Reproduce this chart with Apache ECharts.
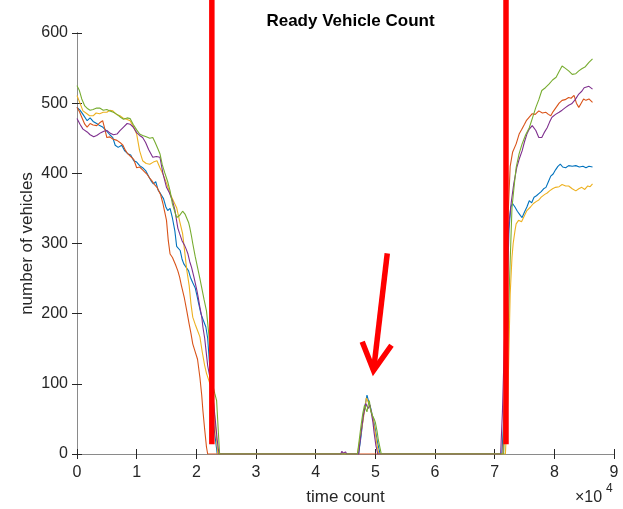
<!DOCTYPE html>
<html>
<head>
<meta charset="utf-8">
<script src="https://cdn.jsdelivr.net/npm/echarts@6/dist/echarts.min.js"></script>
<style>html,body{margin:0;padding:0;background:#fff}#c{width:623px;height:509px}</style>
</head>
<body>
<div id="c"></div>
<script>
// x values in units of 10^4 time counts
const xTicks = [0,1,2,3,4,5,6,7,8,9];
const yTicks = [0,100,200,300,400,500,600];
const titleText = 'Ready Vehicle Count';
const xName = 'time count';
const yName = 'number of vehicles';

const blueRun = [[0,494],[0.05,490],[0.1,484],[0.17,475],[0.22,479],[0.27,474],[0.33,471],[0.38,468],[0.43,466],[0.5,460],[0.55,455],[0.6,451],[0.64,440],[0.69,437],[0.75,440],[0.8,432],[0.85,428],[0.9,426],[0.95,418],[1.0,416],[1.05,411],[1.1,408],[1.15,404],[1.2,396],[1.25,388],[1.28,385],[1.32,388],[1.36,376],[1.4,371],[1.45,364],[1.49,352],[1.52,347],[1.56,350],[1.6,336],[1.64,318],[1.67,296],[1.7,294],[1.73,290],[1.76,278],[1.79,271],[1.83,266],[1.87,261],[1.9,252],[1.94,244],[1.98,237],[2.01,226],[2.04,214],[2.08,199],[2.12,190],[2.16,181],[2.19,165],[2.22,130],[2.26,80],[2.3,35],[2.35,0],[2.6,0],[2.62,2],[2.64,0],[3.3,0],[3.32,1],[3.34,0],[4.3,0],[4.32,2],[4.34,0],[4.72,0],[4.76,25],[4.8,55],[4.83,70],[4.86,84],[4.89,74],[4.92,66],[4.96,52],[5.0,35],[5.04,15],[5.08,0],[6.5,0],[6.52,1],[6.54,0],[7.12,0],[7.16,60],[7.2,200],[7.24,320],[7.27,352],[7.3,357],[7.34,352],[7.38,346],[7.43,340],[7.46,337],[7.5,345],[7.54,352],[7.58,361],[7.62,358],[7.66,366],[7.7,368],[7.74,371],[7.78,374],[7.82,378],[7.86,380],[7.9,388],[7.94,396],[7.98,399],[8.02,405],[8.06,410],[8.1,413],[8.14,409],[8.19,408],[8.24,411],[8.3,410],[8.36,411],[8.42,409],[8.48,410],[8.53,408],[8.58,410],[8.64,409]];

const orangeRun = [[0,494],[0.04,488],[0.08,480],[0.13,470],[0.17,466],[0.22,471],[0.27,469],[0.33,468],[0.38,472],[0.43,475],[0.47,462],[0.5,451],[0.55,452],[0.6,449],[0.67,447],[0.72,444],[0.77,440],[0.81,433],[0.85,428],[0.9,424],[0.95,420],[1.0,408],[1.05,409],[1.1,405],[1.17,399],[1.21,394],[1.25,390],[1.3,384],[1.34,380],[1.4,370],[1.44,357],[1.47,345],[1.5,333],[1.53,304],[1.56,285],[1.6,280],[1.65,270],[1.69,261],[1.72,252],[1.75,240],[1.8,222],[1.84,204],[1.88,185],[1.91,172],[1.94,157],[1.98,146],[2.02,135],[2.06,109],[2.09,84],[2.11,62],[2.14,35],[2.17,10],[2.19,0],[3.5,0],[3.52,1],[3.54,0],[5.0,0],[5.02,1],[5.04,0],[7.14,0],[7.18,150],[7.22,330],[7.26,410],[7.3,430],[7.36,442],[7.41,456],[7.45,462],[7.5,470],[7.53,475],[7.58,480],[7.63,485],[7.68,484],[7.74,489],[7.8,486],[7.86,487],[7.9,484],[7.94,482],[7.98,488],[8.03,494],[8.08,500],[8.13,504],[8.18,505],[8.24,508],[8.28,507],[8.33,511],[8.37,500],[8.41,494],[8.45,500],[8.49,506],[8.53,504],[8.58,506],[8.61,507],[8.64,501]];

const yellowRun = [[0,511],[0.05,500],[0.1,489],[0.15,486],[0.21,482],[0.27,482],[0.32,486],[0.38,485],[0.44,487],[0.5,487],[0.55,490],[0.6,489],[0.66,484],[0.72,482],[0.77,479],[0.83,477],[0.89,475],[0.95,466],[1.0,456],[1.05,432],[1.1,418],[1.16,414],[1.22,413],[1.28,416],[1.34,418],[1.39,408],[1.44,399],[1.5,386],[1.56,371],[1.62,360],[1.67,351],[1.72,332],[1.77,314],[1.8,292],[1.84,262],[1.88,240],[1.91,214],[1.94,195],[1.98,185],[2.02,176],[2.06,167],[2.1,145],[2.14,126],[2.17,115],[2.22,102],[2.27,91],[2.31,50],[2.36,0],[3.1,0],[3.12,1],[3.14,0],[4.7,0],[4.74,20],[4.78,40],[4.82,62],[4.85,80],[4.88,74],[4.9,70],[4.95,55],[5.0,30],[5.03,12],[5.06,0],[6.9,0],[6.92,1],[6.94,0],[7.18,0],[7.22,76],[7.26,228],[7.29,280],[7.31,300],[7.34,318],[7.36,328],[7.4,333],[7.45,331],[7.5,340],[7.54,347],[7.6,352],[7.65,357],[7.7,360],[7.74,362],[7.78,366],[7.84,370],[7.88,372],[7.92,375],[7.97,378],[8.02,380],[8.08,381],[8.13,384],[8.19,382],[8.24,382],[8.3,378],[8.36,375],[8.41,378],[8.46,380],[8.51,377],[8.56,382],[8.6,381],[8.64,385]];

const purpleRun = [[0,478],[0.05,470],[0.1,463],[0.17,459],[0.22,455],[0.28,452],[0.33,454],[0.4,458],[0.45,460],[0.5,461],[0.56,457],[0.61,455],[0.67,456],[0.72,461],[0.78,466],[0.84,471],[0.89,470],[0.94,466],[1.0,458],[1.05,454],[1.1,451],[1.15,444],[1.2,434],[1.27,423],[1.33,424],[1.39,423],[1.44,400],[1.5,380],[1.55,372],[1.6,361],[1.64,348],[1.69,322],[1.72,314],[1.76,304],[1.8,298],[1.83,292],[1.86,285],[1.89,274],[1.92,266],[1.96,252],[2.01,233],[2.03,224],[2.06,209],[2.09,196],[2.11,181],[2.14,165],[2.19,126],[2.23,108],[2.27,91],[2.31,55],[2.35,20],[2.38,0],[3.6,0],[3.62,2],[3.64,0],[4.42,0],[4.44,4],[4.46,1],[4.5,3],[4.52,0],[4.72,0],[4.76,30],[4.8,55],[4.84,72],[4.86,68],[4.88,65],[4.91,70],[4.93,60],[4.96,45],[4.98,30],[5.01,12],[5.04,0],[7.1,0],[7.13,60],[7.16,150],[7.2,260],[7.24,330],[7.28,360],[7.32,385],[7.37,408],[7.41,420],[7.46,432],[7.5,445],[7.54,456],[7.58,463],[7.63,468],[7.66,466],[7.69,461],[7.72,455],[7.74,451],[7.77,449],[7.79,451],[7.83,458],[7.88,465],[7.92,473],[7.96,480],[8.02,484],[8.08,487],[8.13,490],[8.19,494],[8.24,497],[8.29,499],[8.35,505],[8.41,513],[8.46,517],[8.5,522],[8.53,521],[8.58,524],[8.64,520]];

const greenRun = [[0,525],[0.04,518],[0.08,506],[0.13,496],[0.18,492],[0.22,490],[0.27,491],[0.33,493],[0.38,493],[0.44,490],[0.5,491],[0.55,489],[0.61,487],[0.67,484],[0.73,480],[0.78,477],[0.84,479],[0.89,478],[0.94,470],[1.0,462],[1.05,456],[1.1,454],[1.16,452],[1.22,450],[1.27,451],[1.31,444],[1.35,436],[1.39,428],[1.43,412],[1.47,401],[1.52,388],[1.56,375],[1.6,356],[1.64,345],[1.67,337],[1.72,340],[1.77,346],[1.81,342],[1.84,344],[1.87,330],[1.89,323],[1.92,310],[1.94,300],[1.98,282],[2.02,266],[2.06,250],[2.09,237],[2.13,220],[2.17,204],[2.21,170],[2.24,130],[2.27,100],[2.31,86],[2.34,76],[2.37,30],[2.39,0],[2.8,0],[2.82,1],[2.84,0],[3.9,0],[3.92,1],[3.94,0],[4.7,0],[4.73,20],[4.76,40],[4.79,58],[4.82,70],[4.84,64],[4.86,60],[4.88,70],[4.9,76],[4.92,62],[4.95,55],[4.98,50],[5.0,45],[5.03,32],[5.05,20],[5.08,8],[5.1,0],[6.2,0],[6.22,1],[6.24,0],[7.15,0],[7.2,100],[7.25,250],[7.29,351],[7.33,385],[7.36,408],[7.41,428],[7.46,442],[7.52,455],[7.58,465],[7.63,478],[7.69,494],[7.74,505],[7.79,518],[7.85,522],[7.91,527],[7.97,533],[8.03,537],[8.08,545],[8.13,553],[8.18,550],[8.24,546],[8.3,541],[8.36,542],[8.41,546],[8.46,549],[8.52,552],[8.58,558],[8.61,560],[8.64,563]];

// red annotation marks (drawn on top of the chart)
const redLineLeft = [[2.26,14],[2.26,700]];
const redLineRight = [[7.19,14],[7.19,700]];
const arrowShaft = [[5.2,286],[4.97,119]];
const arrowHead = [[4.78,160],[4.97,119],[5.27,155]];

const seriesColors = ['#0072BD','#D95319','#EDB120','#7E2F8E','#77AC30'];
const runs = [blueRun, orangeRun, yellowRun, purpleRun, greenRun];

const chart = echarts.init(document.getElementById('c'), null, {renderer:'canvas'});
const axisFont = 'Liberation Sans, Arial, Helvetica, sans-serif';

const series = runs.map((d, i) => ({
  type: 'line', data: d, showSymbol: false, symbol: 'none', animation: false,
  lineStyle: {color: seriesColors[i], width: 1.1}, itemStyle: {color: seriesColors[i]}
}));
const redStyle = {color: '#FF0000', width: 5.5, cap: 'butt', join: 'miter'};
[redLineLeft, redLineRight].forEach(d => series.push({
  type: 'line', data: d, symbol: 'none', clip: false, animation: false, lineStyle: redStyle, z: 10
}));
series.push({type:'line', data: arrowShaft, symbol:'none', clip:false, animation:false, lineStyle:{color:'#FF0000', width:5.5, cap:'butt'}, z:10});
series.push({type:'line', data: arrowHead, symbol:'none', clip:false, animation:false, lineStyle:{color:'#FF0000', width:5.5, cap:'butt', join:'miter'}, z:10});

chart.setOption({
  animation: false,
  backgroundColor: '#fff',
  title: {text: titleText, left: 345.5, top: 8, textAlign: 'center',
    textStyle: {fontFamily: axisFont, fontSize: 17, fontWeight: 'bold', color: '#000'}},
  grid: {left: 77, right: 9, top: 33, bottom: 55, containLabel: false, outerBoundsMode: 'none'},
  xAxis: [{
    type: 'value', min: xTicks[0], max: xTicks[xTicks.length-1], interval: 1,
    name: xName, nameLocation: 'middle', nameGap: 35, nameMoveOverlap: false,
    nameTextStyle: {fontFamily: axisFont, fontSize: 17, color: '#262626'},
    axisLine: {show: true, lineStyle: {color: '#262626', width: 1}},
    axisTick: {show: true, inside: true, length: 5, lineStyle: {color: '#262626'}},
    axisLabel: {margin: 11, fontFamily: axisFont, fontSize: 16, color: '#262626'},
    splitLine: {show: false}
  },{
    type: 'value', position: 'top', min: xTicks[0], max: xTicks[xTicks.length-1], interval: 1,
    axisLine: {show: true, lineStyle: {color: '#8a8a8a', width: 1}},
    axisTick: {show: true, inside: true, length: 5, lineStyle: {color: '#262626'}},
    axisLabel: {show: false}, splitLine: {show: false}
  }],
  yAxis: [{
    type: 'value', min: yTicks[0], max: yTicks[yTicks.length-1], interval: 100,
    name: yName, nameLocation: 'middle', nameGap: 41, nameRotate: 90, nameMoveOverlap: false,
    nameTextStyle: {fontFamily: axisFont, fontSize: 17, color: '#262626'},
    axisLine: {show: true, lineStyle: {color: '#262626', width: 1}},
    axisTick: {show: true, inside: true, length: 5, lineStyle: {color: '#262626'}},
    axisLabel: {margin: 9, fontFamily: axisFont, fontSize: 16, color: '#262626'},
    splitLine: {show: false}
  },{
    type: 'value', position: 'right', min: yTicks[0], max: yTicks[yTicks.length-1], interval: 100,
    axisLine: {show: true, lineStyle: {color: '#8a8a8a', width: 1}},
    axisTick: {show: true, inside: true, length: 5, lineStyle: {color: '#262626'}},
    axisLabel: {show: false}, splitLine: {show: false}
  }],
  graphic: [
    {type: 'text', left: 575, top: 490, style: {text: '×10', font: '16px ' + axisFont, fill: '#262626'}},
    {type: 'text', left: 606, top: 483, style: {text: '4', font: '12px ' + axisFont, fill: '#262626'}}
  ],
  series: series
});
</script>
</body>
</html>
